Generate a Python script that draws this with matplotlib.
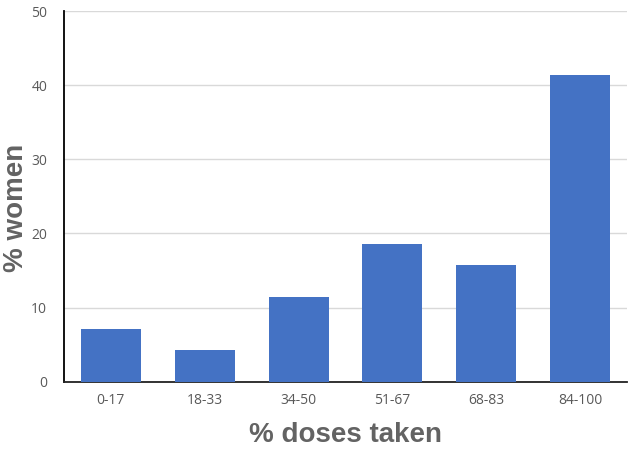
import matplotlib as mpl
mpl.use("Agg")
import matplotlib.pyplot as plt

cats=["0-17","18-33","34-50","51-67","68-83","84-100"]
vals=[7.1,4.3,11.4,18.6,15.7,41.4]
yticks=[0,10,20,30,40,50]

fig=plt.figure(figsize=(6.33,4.49),dpi=100)
ax=fig.add_axes([0.101,0.150,0.8895,0.8255])
x=range(len(cats))
ax.bar(x,vals,width=0.64,color="#4472c4",zorder=3)
ax.set_xlim(-0.5,len(cats)-0.5)
ax.set_ylim(0,50)
ax.set_yticks(yticks)
ax.set_xticks(list(x))
ax.set_xticklabels(cats)
ax.grid(axis="y",color="#d9d9d9",linewidth=1,zorder=0)
for s in ["top","right"]:
    ax.spines[s].set_visible(False)
ax.spines["left"].set_color("black")
ax.spines["left"].set_linewidth(1.3)
ax.spines["bottom"].set_color("#222222")
ax.spines["bottom"].set_linewidth(1.3)
ax.tick_params(length=0,labelsize=10,labelcolor="#595959",pad=8)
ax.tick_params(axis="y",pad=12)
for t in ax.get_xticklabels()+ax.get_yticklabels():
    t.set_family("Open Sans")
ax.set_xlabel("% doses taken",fontsize=20,fontweight="bold",color="#636363",family="Liberation Sans",labelpad=10)
# y label placed by hand so it is not clipped
fig.text(16/633,1-208/449,"% women",rotation=90,ha="center",va="center",
         fontsize=20,fontweight="bold",color="#636363",family="Liberation Sans")
fig.savefig("out.png",dpi=100)
